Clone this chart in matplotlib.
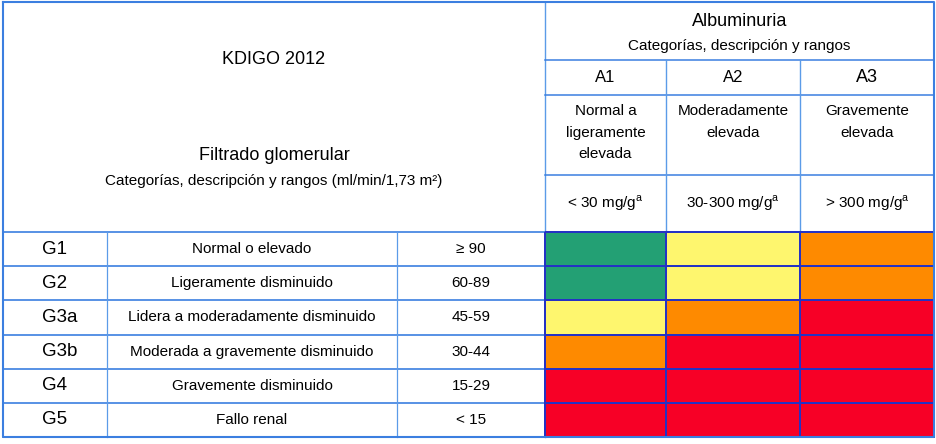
import numpy as np
import matplotlib
matplotlib.use('Agg')
import matplotlib.pyplot as plt
from matplotlib.colors import ListedColormap

plt.rcParams['font.family'] = ['Liberation Sans', 'DejaVu Sans']
plt.rcParams['mathtext.fontset'] = 'custom'
plt.rcParams['mathtext.rm'] = 'Liberation Sans'

# data
g_codes = ['G1', 'G2', 'G3a', 'G3b', 'G4', 'G5']
g_desc = ['Normal o elevado', 'Ligeramente disminuido', 'Lidera a moderadamente disminuido',
          'Moderada a gravemente disminuido', 'Gravemente disminuido', 'Fallo renal']
g_ranges = ['\u2265 90', '60-89', '45-59', '30-44', '15-29', '< 15']
a_codes = ['A1', 'A2', 'A3']
a_desc = ['Normal a\nligeramente\nelevada', 'Moderadamente\nelevada', 'Gravemente\nelevada']
a_ranges = [r'< 30 mg/g$^{\mathrm{a}}$', r'30-300 mg/g$^{\mathrm{a}}$', r'> 300 mg/g$^{\mathrm{a}}$']
# 0 = bajo, 1 = moderado, 2 = alto, 3 = muy alto
risk = [[0, 1, 2],
        [0, 1, 2],
        [1, 2, 3],
        [2, 3, 3],
        [3, 3, 3],
        [3, 3, 3]]
risk_colors = ['#23a074', '#fef66e', '#fe8a00', '#f70026']

# layout (pixels)
xs = [3, 107, 397, 545, 666, 800, 934]
hy = [2, 60, 95, 175, 232]
top, bot = 232, 437
ys = np.linspace(top, bot, len(g_codes) + 1)

light = '#5b9be8'
mid = '#3b7fe0'
dark = '#2432c4'

fig = plt.figure(figsize=(9.36, 4.44), dpi=100)
ax = fig.add_axes([0, 0, 1, 1])
ax.set_xlim(0, 936)
ax.set_ylim(444, 0)
ax.axis('off')

# coloured risk cells
ax.pcolormesh(xs[3:], ys, np.array(risk), cmap=ListedColormap(risk_colors),
              vmin=-0.5, vmax=3.5, edgecolors=dark, linewidth=1.2, zorder=2)

# grid lines, left part of body
for y in ys:
    ax.plot([xs[0], xs[3]], [y, y], color=mid, lw=1.2, zorder=1)
for x in xs[1:3]:
    ax.plot([x, x], [top, bot], color=light, lw=0.9, zorder=1)
ax.plot([xs[3], xs[3]], [hy[0], bot], color=light, lw=1.0, zorder=1)

# header lines on the right
for y in hy[1:]:
    ax.plot([xs[3], xs[6]], [y, y], color=mid, lw=1.1, zorder=1)
for x in xs[4:6]:
    ax.plot([x, x], [hy[1], top], color=light, lw=1.0, zorder=1)

# outer border
ax.plot([xs[0], xs[6], xs[6], xs[0], xs[0]], [hy[0], hy[0], bot, bot, hy[0]],
        color=mid, lw=1.5, zorder=3)

# left header texts
cx = (xs[0] + xs[3]) / 2
ax.text(cx, 60, 'KDIGO 2012', ha='center', va='center', fontsize=13)
ax.text(cx, 155, 'Filtrado glomerular', ha='center', va='center', fontsize=13)
ax.text(cx, 181, 'Categorías, descripción y rangos (ml/min/1,73 m\u00b2)',
        ha='center', va='center', fontsize=11)

# right header texts
rx = (xs[3] + xs[6]) / 2
ax.text(rx, 21, 'Albuminuria', ha='center', va='center', fontsize=13)
ax.text(rx, 46, 'Categorías, descripción y rangos', ha='center', va='center', fontsize=11)
for i in range(3):
    c = (xs[3 + i] + xs[4 + i]) / 2
    ax.text(c, 78, a_codes[i], ha='center', va='center', fontsize=13 if i == 2 else 12)
    ax.text(c, 104, a_desc[i], ha='center', va='top', fontsize=11, linespacing=1.7)
    ax.text(c, 203, a_ranges[i], ha='center', va='center', fontsize=11)

# body rows
for i in range(len(g_codes)):
    yc = (ys[i] + ys[i + 1]) / 2
    ax.text(xs[0] + 39, yc, g_codes[i], ha='left', va='center', fontsize=13.5)
    ax.text((xs[1] + xs[2]) / 2, yc, g_desc[i], ha='center', va='center', fontsize=11)
    ax.text((xs[2] + xs[3]) / 2, yc, g_ranges[i], ha='center', va='center', fontsize=11)

fig.savefig('out.png', dpi=100, facecolor='white')
